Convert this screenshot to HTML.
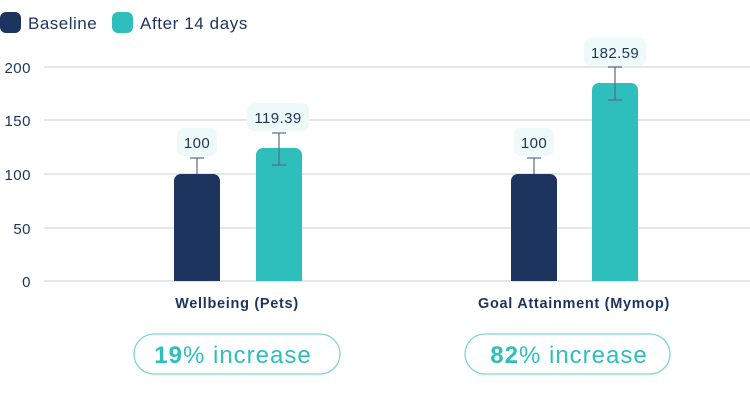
<!DOCTYPE html>
<html><head><style>
body{margin:0;width:750px;height:400px;background:#fff;overflow:hidden;font-family:"Liberation Sans",sans-serif;}
</style></head><body>
<svg width="750" height="400" xmlns="http://www.w3.org/2000/svg" font-family="Liberation Sans, sans-serif">
<rect x="0" y="12" width="21" height="21" rx="6" fill="#1d355e"/>
<text x="28" y="29" font-size="17" fill="#1d355e" letter-spacing="0.5">Baseline</text>
<rect x="112" y="12" width="21" height="21" rx="6" fill="#2ebfbd"/>
<text x="140" y="29" font-size="17" fill="#1d355e" letter-spacing="0.6">After 14 days</text>
<g stroke="#e6e6e6" stroke-width="2">
<line x1="44" x2="750" y1="67" y2="67"/><line x1="44" x2="750" y1="120" y2="120"/>
<line x1="44" x2="750" y1="174" y2="174"/><line x1="44" x2="750" y1="228" y2="228"/>
<line x1="44" x2="750" y1="281" y2="281"/></g>
<g font-size="15" fill="#1d355e" text-anchor="end" letter-spacing="0.5">
<text x="31" y="73">200</text><text x="31" y="126">150</text><text x="31" y="180">100</text>
<text x="31" y="234">50</text><text x="31" y="287">0</text></g>
<path d="M174,281V181a7,7 0 0 1 7,-7h32a7,7 0 0 1 7,7V281z" fill="#1d355e"/>
<path d="M256,281V155a7,7 0 0 1 7,-7h32a7,7 0 0 1 7,7V281z" fill="#2ebfbd"/>
<path d="M511,281V181a7,7 0 0 1 7,-7h32a7,7 0 0 1 7,7V281z" fill="#1d355e"/>
<path d="M592,281V90a7,7 0 0 1 7,-7h32a7,7 0 0 1 7,7V281z" fill="#2ebfbd"/>
<g stroke="#5a6b88" stroke-width="1.2">
<line x1="197" x2="197" y1="158" y2="174"/><line x1="190" x2="204" y1="158" y2="158"/>
<line x1="279" x2="279" y1="133" y2="165"/><line x1="272" x2="286" y1="133" y2="133"/><line x1="272" x2="286" y1="165" y2="165"/>
<line x1="534" x2="534" y1="158" y2="174"/><line x1="527" x2="541" y1="158" y2="158"/>
<line x1="615" x2="615" y1="67" y2="100"/><line x1="608" x2="622" y1="67" y2="67"/><line x1="608" x2="622" y1="100" y2="100"/>
</g>
<g fill="#eef9f9">
<rect x="177" y="128" width="40" height="28" rx="7"/>
<rect x="247" y="103" width="62" height="28" rx="7"/>
<rect x="514" y="128" width="40" height="28" rx="7"/>
<rect x="584" y="38" width="62" height="28" rx="7"/>
</g>
<g font-size="15" fill="#1d355e" text-anchor="middle" letter-spacing="0.4">
<text x="197" y="148">100</text><text x="278" y="123">119.39</text>
<text x="534" y="148">100</text><text x="615" y="58">182.59</text>
</g>
<g font-size="14.5" font-weight="bold" fill="#1d355e" text-anchor="middle" letter-spacing="0.7">
<text x="237" y="308">Wellbeing (Pets)</text>
<text x="574" y="308">Goal Attainment (Mymop)</text>
</g>
<rect x="134" y="334" width="206" height="40" rx="20" fill="none" stroke="#7fd6d4" stroke-width="1.3"/>
<rect x="465" y="334" width="205" height="40" rx="20" fill="none" stroke="#7fd6d4" stroke-width="1.3"/>
<g font-size="24" fill="#2ebfbd" text-anchor="middle" letter-spacing="1">
<text x="233" y="363"><tspan font-weight="bold">19</tspan>% increase</text>
<text x="569" y="363"><tspan font-weight="bold">82</tspan>% increase</text>
</g>
</svg>
</body></html>
